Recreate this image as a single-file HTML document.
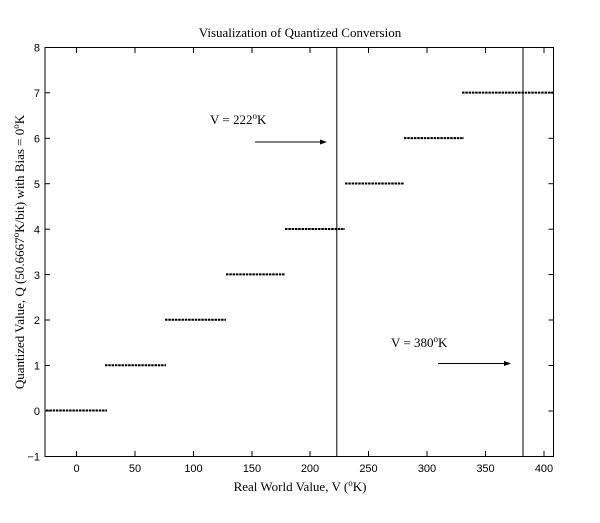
<!DOCTYPE html>
<html><head><style>body{margin:0;background:#fff}svg text{font-family:"Liberation Serif",serif;fill:#000}svg .tk{font-family:"Liberation Sans",sans-serif}</style></head><body>
<svg width="600" height="518" xmlns="http://www.w3.org/2000/svg">
<rect width="600" height="518" fill="#fff"/>
<g stroke="#000" stroke-width="1" fill="none">
<rect x="45" y="47.5" width="508.5" height="409"/>
</g>
<g stroke="#000" stroke-width="1">
<line x1="76.5" y1="456.5" x2="76.5" y2="451"/><line x1="76.5" y1="47.5" x2="76.5" y2="53"/>
<line x1="135" y1="456.5" x2="135" y2="451"/><line x1="135" y1="47.5" x2="135" y2="53"/>
<line x1="193.5" y1="456.5" x2="193.5" y2="451"/><line x1="193.5" y1="47.5" x2="193.5" y2="53"/>
<line x1="252" y1="456.5" x2="252" y2="451"/><line x1="252" y1="47.5" x2="252" y2="53"/>
<line x1="310" y1="456.5" x2="310" y2="451"/><line x1="310" y1="47.5" x2="310" y2="53"/>
<line x1="368.5" y1="456.5" x2="368.5" y2="451"/><line x1="368.5" y1="47.5" x2="368.5" y2="53"/>
<line x1="427" y1="456.5" x2="427" y2="451"/><line x1="427" y1="47.5" x2="427" y2="53"/>
<line x1="485.5" y1="456.5" x2="485.5" y2="451"/><line x1="485.5" y1="47.5" x2="485.5" y2="53"/>
<line x1="544" y1="456.5" x2="544" y2="451"/><line x1="544" y1="47.5" x2="544" y2="53"/>
</g>
<g stroke="#000" stroke-width="1">
<line x1="45" x2="50" y1="47.5" y2="47.5"/><line x1="45" x2="50" y1="92.8" y2="92.8"/><line x1="45" x2="50" y1="138.3" y2="138.3"/><line x1="45" x2="50" y1="183.7" y2="183.7"/><line x1="45" x2="50" y1="229.2" y2="229.2"/><line x1="45" x2="50" y1="274.6" y2="274.6"/><line x1="45" x2="50" y1="320" y2="320"/><line x1="45" x2="50" y1="365.5" y2="365.5"/><line x1="45" x2="50" y1="411" y2="411"/>
<line x1="553.5" x2="548.5" y1="92.8" y2="92.8"/><line x1="553.5" x2="548.5" y1="138.3" y2="138.3"/><line x1="553.5" x2="548.5" y1="183.7" y2="183.7"/><line x1="553.5" x2="548.5" y1="229.2" y2="229.2"/><line x1="553.5" x2="548.5" y1="274.6" y2="274.6"/><line x1="553.5" x2="548.5" y1="320" y2="320"/><line x1="553.5" x2="548.5" y1="365.5" y2="365.5"/><line x1="553.5" x2="548.5" y1="411" y2="411"/>
</g>
<g stroke="#000" stroke-width="2" stroke-dasharray="2.5 0.8">
<line x1="46" x2="107" y1="410.5" y2="410.5"/>
<line x1="105" x2="166" y1="365.3" y2="365.3"/>
<line x1="165" x2="226" y1="319.8" y2="319.8"/>
<line x1="226" x2="285" y1="274.4" y2="274.4"/>
<line x1="285" x2="345" y1="229" y2="229"/>
<line x1="345" x2="404" y1="183.5" y2="183.5"/>
<line x1="404" x2="464" y1="138.1" y2="138.1"/>
<line x1="462" x2="553" y1="92.6" y2="92.6"/>
</g>
<g stroke="#000" stroke-width="1">
<line x1="336.8" x2="336.8" y1="47.5" y2="456.5"/>
<line x1="523" x2="523" y1="47.5" y2="456.5"/>
<line x1="255" x2="322" y1="142" y2="142"/>
<line x1="438" x2="506" y1="363.5" y2="363.5"/>
</g>
<polygon points="327,142 320,139.5 320,144.5" fill="#000"/>
<polygon points="511,363.5 504,361 504,366" fill="#000"/>
<g font-size="11" text-anchor="middle" class="tk">
<text class="tk" x="76.5" y="472">0</text><text class="tk" x="135" y="472">50</text><text class="tk" x="193.5" y="472">100</text><text class="tk" x="252" y="472">150</text><text class="tk" x="310" y="472">200</text><text class="tk" x="368.5" y="472">250</text><text class="tk" x="427" y="472">300</text><text class="tk" x="485.5" y="472">350</text><text class="tk" x="544" y="472">400</text>
</g>
<g font-size="11" text-anchor="end">
<text class="tk" x="40" y="51.5">8</text><text class="tk" x="40" y="97">7</text><text class="tk" x="40" y="142.5">6</text><text class="tk" x="40" y="188">5</text><text class="tk" x="40" y="233.5">4</text><text class="tk" x="40" y="279">3</text><text class="tk" x="40" y="324">2</text><text class="tk" x="40" y="369.5">1</text><text class="tk" x="40" y="415">0</text><text class="tk" x="40" y="460.5">−1</text>
</g>
<text x="300" y="37" font-size="13" text-anchor="middle">Visualization of Quantized Conversion</text>
<text x="300" y="491" font-size="13" text-anchor="middle">Real World Value, V (<tspan font-size="9" dy="-5">o</tspan><tspan dy="5">K)</tspan></text>
<text transform="translate(24,252) rotate(-90)" font-size="13" text-anchor="middle">Quantized Value, Q (50.6667<tspan font-size="9" dy="-5">o</tspan><tspan dy="5">K/bit) with Bias = 0</tspan><tspan font-size="9" dy="-5">o</tspan><tspan dy="5">K</tspan></text>
<text x="210" y="124" font-size="13">V = 222<tspan font-size="9" dy="-5">o</tspan><tspan dy="5">K</tspan></text>
<text x="391" y="347" font-size="13">V = 380<tspan font-size="9" dy="-5">o</tspan><tspan dy="5">K</tspan></text>
</svg>
</body></html>
